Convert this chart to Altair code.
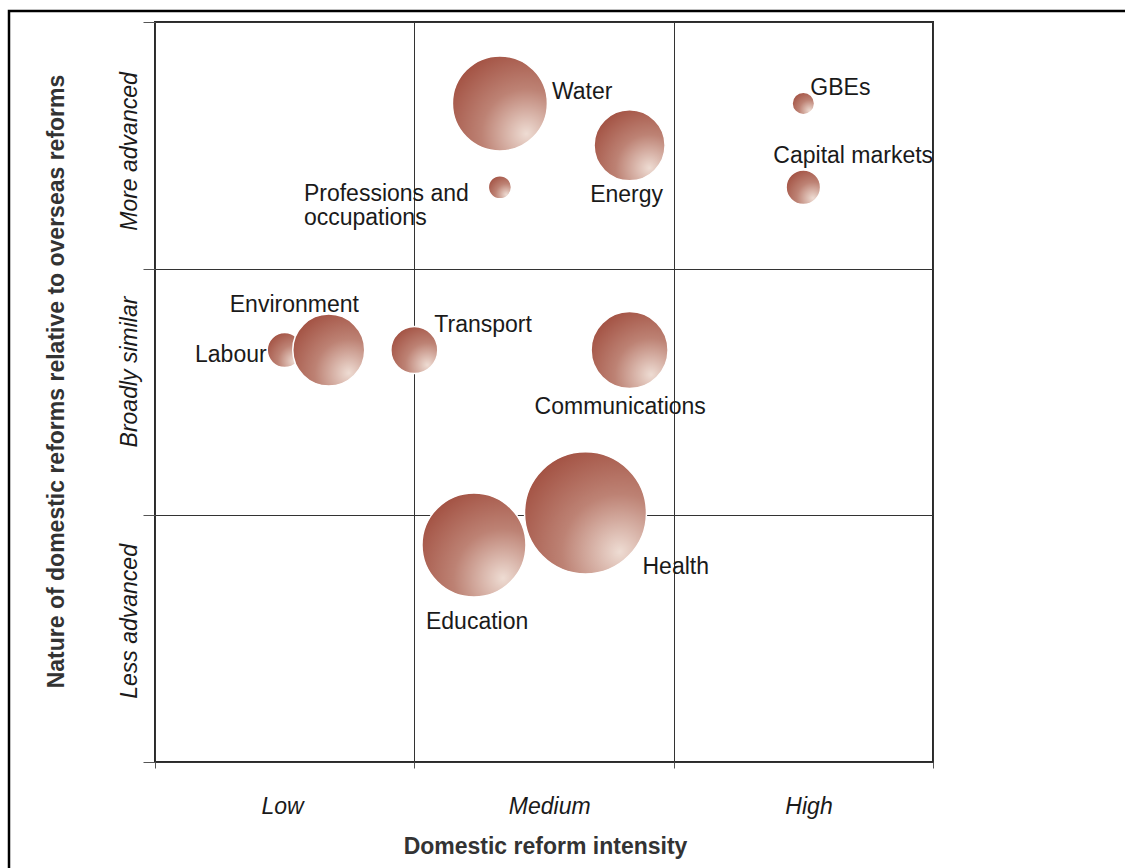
import math
import altair as alt
import pandas as pd

# ---------------- data ----------------
names = ["Water", "Energy", "Professions and occupations", "GBEs", "Capital markets",
         "Labour", "Environment", "Transport", "Communications", "Education", "Health"]
intensity = [1.33, 1.83, 1.33, 2.50, 2.50, 0.50, 0.67, 1.00, 1.83, 1.23, 1.66]
nature = [2.67, 2.50, 2.33, 2.67, 2.33, 1.67, 1.67, 1.67, 1.67, 0.88, 1.01]
weight = [60.6, 33.9, 3.6, 3.4, 8.0, 8.2, 34.8, 14.8, 39.8, 72.7, 100.0]

x_labels = ["Low", "Medium", "High"]
x_label_pos = [0.49, 1.52, 2.52]
y_labels = ["Less advanced", "Broadly similar", "More advanced"]
y_label_pos = [0.572, 1.583, 2.477]
bounds = [0, 1, 2, 3]

df = pd.DataFrame({"name": names, "x": intensity, "y": nature, "w": weight,
                   "order": list(range(len(names)))})

# ---------------- styling ----------------
FONT = "Liberation Sans"
W, H = 778, 740
R_MAX = 61

# label placement (align, dx, dy) in pixels relative to bubble centre
label_style = {
    "Water": ("left", 52, -4),
    "Energy": ("center", -3, 57),
    "Professions and occupations": ("left", -196, 14),
    "GBEs": ("left", 7, -8),
    "Capital markets": ("left", -30, -24),
    "Labour": ("right", -18, 12),
    "Environment": ("left", -99, -38),
    "Transport": ("left", 20, -18),
    "Communications": ("left", -95, 64),
    "Education": ("left", -48, 84),
    "Health": ("left", 57, 61),
}

grad = alt.RadialGradient(
    gradient="radial",
    x1=0.78, y1=0.82, r1=0.0,
    x2=0.78, y2=0.82, r2=1.05,
    stops=[
        alt.GradientStop(offset=0.0, color="#eedcd3"),
        alt.GradientStop(offset=0.45, color="#bd8274"),
        alt.GradientStop(offset=1.0, color="#9c4536"),
    ],
)

def lab_expr(labels, pos):
    parts = []
    for l, p in zip(labels, pos):
        parts.append(f"abs(datum.value - {p}) < 0.001 ? '{l}'")
    return " : ".join(parts) + " : ''"

is_int = "datum.value % 1 === 0"

xscale = alt.Scale(domain=[0, 3], nice=False, zero=False)
yscale = alt.Scale(domain=[0, 3], nice=False, zero=False)

x_axis = alt.Axis(
    values=sorted(bounds + x_label_pos),
    labelExpr=lab_expr(x_labels, x_label_pos),
    domain=False,
    grid=True,
    gridColor="#333333",
    gridWidth=1,
    gridOpacity={"condition": {"test": is_int, "value": 1}, "value": 0},
    ticks=True,
    tickSize=6,
    tickColor="#555555",
    tickOpacity={"condition": {"test": is_int, "value": 1}, "value": 0},
    labelFont=FONT, labelFontSize=23, labelFontStyle="italic", labelColor="#1a1a1a",
    labelBaseline="alphabetic", labelAlign="center", labelPadding=45, labelAngle=0,
    labelOverlap=False, labelFlush=False,
    title="Domestic reform intensity",
    titleFont=FONT, titleFontSize=23, titleFontWeight="bold", titleColor="#333333",
    titleBaseline="alphabetic", titleY=91, titleX=W / 2 + 1, titleAlign="center",
)

y_axis = alt.Axis(
    values=sorted(bounds + y_label_pos),
    labelExpr=lab_expr(y_labels, y_label_pos),
    domain=False,
    grid=True,
    gridColor="#333333",
    gridWidth=1,
    gridOpacity={"condition": {"test": is_int, "value": 1}, "value": 0},
    ticks=True,
    tickSize=12,
    tickColor="#555555",
    tickOpacity={"condition": {"test": is_int, "value": 1}, "value": 0},
    labelFont=FONT, labelFontSize=23, labelFontStyle="italic", labelColor="#1a1a1a",
    labelAngle=270, labelAlign="center", labelBaseline="alphabetic", labelPadding=7,
    labelOverlap=False, labelFlush=False,
    title="Nature of domestic reforms relative to overseas reforms",
    titleFont=FONT, titleFontSize=23, titleFontWeight="bold", titleColor="#333333",
    titleAngle=270, titleBaseline="alphabetic", titleAlign="center",
    titleX=-92, titleY=359,
)

base = alt.Chart(df)

# Vega circle symbols have radius sqrt(size)/2, so the area range is (2r)^2
bubbles = base.mark_circle(
    color=grad, opacity=1, stroke="white", strokeWidth=1.5
).encode(
    x=alt.X("x:Q", scale=xscale, axis=x_axis),
    y=alt.Y("y:Q", scale=yscale, axis=y_axis),
    size=alt.Size("w:Q", scale=alt.Scale(type="linear", domain=[0, 100],
                                          range=[0, (2 * R_MAX) ** 2]), legend=None),
    order=alt.Order("order:Q"),
)

label_layers = []
for n in names:
    align, dx, dy = label_style[n]
    text = alt.value(["Professions and", "occupations"]) if n.startswith("Professions") else alt.Text("name:N")
    label_layers.append(
        base.transform_filter(alt.datum.name == n).mark_text(
            align=align, baseline="alphabetic", dx=dx, dy=dy,
            font=FONT, fontSize=23, color="#1a1a1a", lineHeight=24,
        ).encode(
            x=alt.X("x:Q", scale=xscale),
            y=alt.Y("y:Q", scale=yscale),
            text=text,
        )
    )

frame = alt.Chart(pd.DataFrame({"k": [0]})).mark_rect(
    fill=None, stroke="black", strokeWidth=2.5
).encode(
    x=alt.value(-146), x2=alt.value(1000),
    y=alt.value(-11), y2=alt.value(900),
)

chart = alt.layer(bubbles, *label_layers, frame).properties(
    width=W, height=H,
    autosize=alt.AutoSizeParams(type="none"),
    padding={"left": 155, "top": 22, "right": 192, "bottom": 106},
).configure_view(
    stroke="#2a2a2a", strokeWidth=2
)

chart.save("out.html", embed_options={"renderer": "svg", "actions": False})
